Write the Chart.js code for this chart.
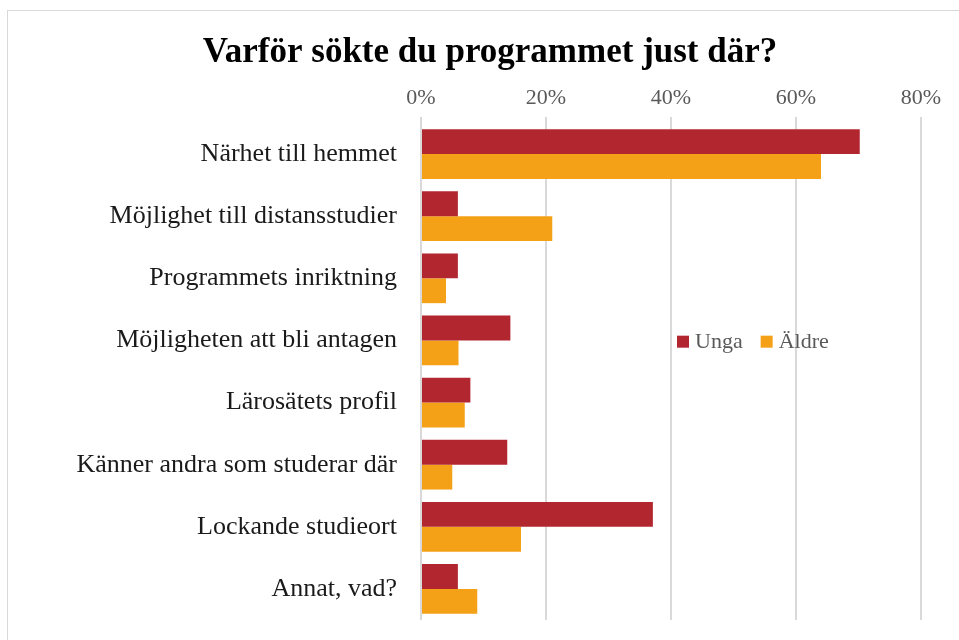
<!DOCTYPE html>
<html>
<head>
<meta charset="utf-8">
<script src="https://cdn.jsdelivr.net/npm/chart.js@4.4.1/dist/chart.umd.min.js"></script>
<style>
  html, body { margin: 0; padding: 0; background: #fff; overflow: hidden; width: 959px; height: 640px; }
  #box { position: absolute; left: 7px; top: 10px; width: 966px; height: 640px; border: 1px solid #d9d9d9; box-sizing: border-box; background: #fff; }
  #wrap { position: absolute; left: 0; top: 0; width: 964px; height: 629px; }
</style>
</head>
<body>
<div id="box"><div id="wrap"><canvas id="c"></canvas></div></div>
<script>
const categories = [
  "Närhet till hemmet",
  "Möjlighet till distansstudier",
  "Programmets inriktning",
  "Möjligheten att bli antagen",
  "Lärosätets profil",
  "Känner andra som studerar där",
  "Lockande studieort",
  "Annat, vad?"
];
const seriesNames = ["Unga", "Äldre"];
const ungaValues = [70.2, 5.9, 5.9, 14.3, 7.9, 13.8, 37.1, 5.9];
const aldreValues = [64.0, 21.0, 4.0, 6.0, 7.0, 5.0, 16.0, 9.0];
const xTicks = [0, 20, 40, 60, 80];
const colors = ["#B2272F", "#F4A118"];
const FONT = "'Liberation Serif', 'DejaVu Serif', serif";

const legendPlugin = {
  id: 'insideLegend',
  afterDraw(chart) {
    const ctx = chart.ctx;
    const a = chart.chartArea;
    let x = a.left + 0.512 * (a.right - a.left);
    const y = a.top + 0.44 * (a.bottom - a.top);
    ctx.save();
    ctx.font = "22px " + FONT;
    ctx.textBaseline = 'middle';
    ctx.textAlign = 'left';
    chart.data.datasets.forEach((ds) => {
      ctx.fillStyle = ds.backgroundColor;
      ctx.fillRect(x, y - 6, 12, 12);
      ctx.fillStyle = '#595959';
      ctx.fillText(ds.label, x + 18, y + 1);
      x += 18 + ctx.measureText(ds.label).width + 18;
    });
    ctx.restore();
  }
};

new Chart(document.getElementById('c'), {
  type: 'bar',
  data: {
    labels: categories,
    datasets: [
      { label: seriesNames[0], data: ungaValues, backgroundColor: colors[0], borderWidth: 0 },
      { label: seriesNames[1], data: aldreValues, backgroundColor: colors[1], borderWidth: 0 }
    ]
  },
  options: {
    indexAxis: 'y',
    responsive: true,
    maintainAspectRatio: false,
    animation: false,
    categoryPercentage: 0.8,
    barPercentage: 1.0,
    layout: { padding: { left: 0, right: 0, top: 0, bottom: 20 } },
    plugins: {
      legend: { display: false },
      tooltip: { enabled: false },
      title: {
        display: true,
        text: "Varför sökte du programmet just där?",
        color: '#000',
        font: { family: FONT, size: 35, weight: 'bold' },
        padding: { top: 21, bottom: 0 }
      }
    },
    scales: {
      x: {
        position: 'top',
        min: 0, max: 80,
        afterBuildTicks(scale) { scale.ticks = xTicks.map(v => ({ value: v })); },
        afterFit(scale) { scale.height = 49; scale.paddingRight = 51; scale.paddingLeft = 0; },
        ticks: {
          callback: v => v + '%',
          color: '#595959',
          font: { family: FONT, size: 22 },
          padding: 6
        },
        grid: { color: '#d9d9d9', lineWidth: 2, tickLength: 6, drawTicks: true },
        border: { display: false }
      },
      y: {
        afterFit(scale) { scale.width = 413; scale.paddingTop = 0; scale.paddingBottom = 0; },
        ticks: {
          color: '#1a1a1a',
          font: { family: FONT, size: 26 },
          padding: 24
        },
        grid: { display: false, drawTicks: false },
        border: { display: false }
      }
    }
  },
  plugins: [legendPlugin]
});
</script>
</body>
</html>
